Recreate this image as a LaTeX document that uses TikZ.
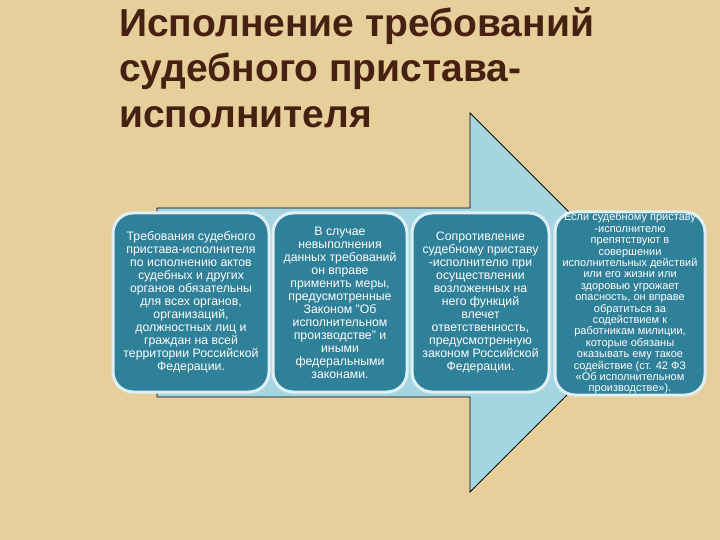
\documentclass[tikz,border=0pt]{standalone}
\usepackage{fontspec}
\setmainfont{Liberation Sans}
\definecolor{parchment}{RGB}{231,207,155}
\definecolor{titlebrown}{RGB}{70,32,16}
\definecolor{boxteal}{RGB}{47,128,153}
\definecolor{boxrim}{RGB}{222,240,245}
\definecolor{arrowblue}{RGB}{166,213,226}
\begin{document}
\begin{tikzpicture}[
    x=1pt, y=-1pt,
    heading/.style={
        anchor=north west,
        inner sep=0pt,
        align=left,
        text=titlebrown,
        font=\bfseries\fontsize{39}{45.5}\selectfont,
        },
    bigarrow/.style={
        fill=arrowblue,
        draw=black,
        line width=.8pt,
        },
    card/.style={
        rectangle,
        rounded corners=20pt,
        draw=boxrim,
        line width=3pt,
        fill=boxteal,
        text=white,
        align=center,
        inner sep=0pt,
        minimum height=179pt,
        font=\fontsize{12.3}{13}\selectfont,
        },
    ]

    \fill [parchment] (0,0) rectangle (720,540);
    \useasboundingbox (0,0) rectangle (720,540);

    \node [heading] (title) at (119,7) {Исполнение требований\\судебного пристава-\\исполнителя};

    % the big arrow behind the cards
    \draw [bigarrow] (157,208) -- (470,208) -- (470,113) -- (659.5,302.5)
        -- (470,492) -- (470,397) -- (157,397) -- cycle;

    \node [card, minimum width=156pt] (demand) at (191,302.5)
        {Требования судебного\\пристава-исполнителя\\по исполнению актов\\судебных и других\\органов обязательны\\для всех органов,\\организаций,\\должностных лиц и\\граждан на всей\\территории Российской\\Федерации.};
    \node [card, minimum width=134pt] (failure) at (340,302.5)
        {В случае\\невыполнения\\данных требований\\он вправе\\применить меры,\\предусмотренные\\Законом "Об\\исполнительном\\производстве" и\\иными\\федеральными\\законами.};
    \node [card, minimum width=137pt] (resist) at (480.5,302.5)
        {Сопротивление\\судебному приставу\\-исполнителю при\\осуществлении\\возложенных на\\него функций\\влечет\\ответственность,\\предусмотренную\\законом Российской\\Федерации.};
    \node [card, minimum width=150pt, minimum height=183pt,
        font=\fontsize{11}{11.4}\selectfont] (police) at (630,303.5)
        {Если судебному приставу\\-исполнителю\\препятствуют в\\совершении\\исполнительных действий\\или его жизни или\\здоровью угрожает\\опасность, он вправе\\обратиться за\\содействием к\\работникам милиции,\\которые обязаны\\оказывать ему такое\\содействие (ст. 42 ФЗ\\«Об исполнительном\\производстве»).};

\end{tikzpicture}
\end{document}
